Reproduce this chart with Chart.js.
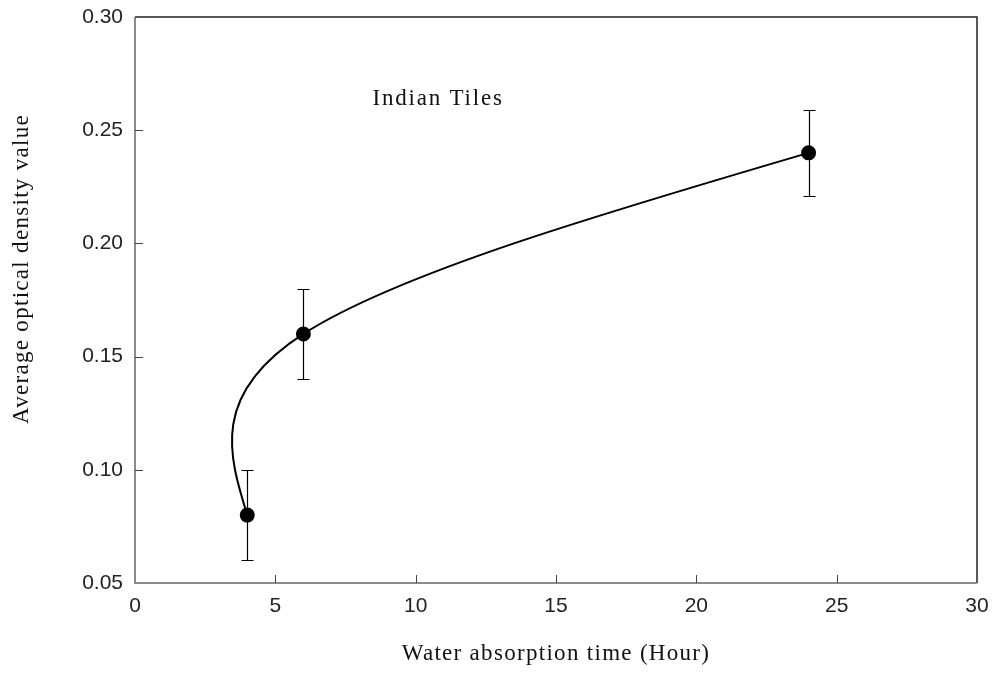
<!DOCTYPE html>
<html>
<head>
<meta charset="utf-8">
<script src="https://cdn.jsdelivr.net/npm/chart.js@4.4.0/dist/chart.umd.min.js"></script>
<style>
  html, body { margin: 0; padding: 0; background: #fff; }
  #wrap { width: 993px; height: 673px; }
</style>
</head>
<body>
<div id="wrap"><canvas id="chart"></canvas></div>
<script>
// === DATA ===
const hours = [4, 6, 24];
const density = [0.08, 0.16, 0.24];
const errors = [0.02, 0.02, 0.019];
const xTicks = [0, 5, 10, 15, 20, 25, 30];
const yTicks = [0.05, 0.10, 0.15, 0.20, 0.25, 0.30];
const seriesName = 'Indian Tiles';
const xTitle = 'Water absorption time (Hour)';
const yTitle = 'Average optical density value';

const serif = '"Liberation Serif", "Times New Roman", serif';
const sans = '"Liberation Sans", Arial, sans-serif';

// === SPLINE: natural cubic, uniform parameter (like the original plot) ===
const naturalSpline = {
  id: 'naturalSpline',
  beforeDatasetDraw(chart, args) {
    const line = args.meta.dataset;
    if (!line) return;
    line.updateControlPoints(chart.chartArea);
    const pts = args.meta.data;
    const n = pts.length;
    ['x', 'y'].forEach(k => {
      const p = pts.map(pt => pt[k]);
      const m = new Array(n).fill(0);
      const c = new Array(n).fill(0), d = new Array(n).fill(0);
      for (let i = 1; i < n - 1; i++) {
        const rhs = 6 * (p[i + 1] - 2 * p[i] + p[i - 1]);
        const denom = 4 - (i > 1 ? c[i - 1] : 0);
        c[i] = 1 / denom;
        d[i] = (rhs - (i > 1 ? d[i - 1] : 0)) / denom;
      }
      for (let i = n - 2; i >= 1; i--) m[i] = d[i] - c[i] * m[i + 1];
      for (let i = 0; i < n; i++) {
        const out = i < n - 1 ? (p[i + 1] - p[i]) - (2 * m[i] + m[i + 1]) / 6 : 0;
        const inn = i > 0 ? (p[i] - p[i - 1]) + (m[i - 1] + 2 * m[i]) / 6 : 0;
        pts[i]['cp1' + k] = p[i] - inn / 3;
        pts[i]['cp2' + k] = p[i] + out / 3;
      }
    });
  }
};

// === FRAME, INWARD TICKS, ERROR BARS, TEXT ===
const decorations = {
  id: 'decorations',
  beforeDatasetsDraw(chart) {
    const { ctx, chartArea: a, scales: { x, y } } = chart;
    ctx.save();
    // frame
    ctx.lineWidth = 1.5;
    ctx.strokeStyle = '#222';
    ctx.beginPath();
    ctx.moveTo(a.left, a.top); ctx.lineTo(a.right, a.top); ctx.lineTo(a.right, a.bottom);
    ctx.stroke();
    ctx.strokeStyle = '#666';
    ctx.beginPath();
    ctx.moveTo(a.left, a.top); ctx.lineTo(a.left, a.bottom); ctx.lineTo(a.right, a.bottom);
    ctx.stroke();
    // inward ticks
    ctx.lineWidth = 1;
    ctx.strokeStyle = '#444';
    ctx.beginPath();
    xTicks.slice(1, -1).forEach(v => {
      const px = Math.round(x.getPixelForValue(v)) + 0.5;
      ctx.moveTo(px, a.bottom); ctx.lineTo(px, a.bottom - 8);
    });
    yTicks.slice(1, -1).forEach(v => {
      const py = Math.round(y.getPixelForValue(v)) + 0.5;
      ctx.moveTo(a.left, py); ctx.lineTo(a.left + 8, py);
    });
    ctx.stroke();
    // error bars
    ctx.strokeStyle = '#000';
    ctx.lineWidth = 1.2;
    ctx.beginPath();
    hours.forEach((h, i) => {
      const px = Math.round(x.getPixelForValue(h)) + 0.5;
      const top = Math.round(y.getPixelForValue(density[i] + errors[i])) + 0.5;
      const bot = Math.round(y.getPixelForValue(density[i] - errors[i])) + 0.5;
      ctx.moveTo(px, top); ctx.lineTo(px, bot);
      ctx.moveTo(px - 6, top); ctx.lineTo(px + 6, top);
      ctx.moveTo(px - 6, bot); ctx.lineTo(px + 6, bot);
    });
    ctx.stroke();
    // serif text: series label, axis titles
    ctx.fillStyle = '#111';
    ctx.font = '23px ' + serif;
    ctx.textAlign = 'center';
    ctx.textBaseline = 'middle';
    ctx.letterSpacing = '1.8px';
    ctx.fillText(seriesName, x.getPixelForValue(10.8), y.getPixelForValue(0.264));
    ctx.letterSpacing = '1.3px';
    ctx.fillText(xTitle, (a.left + a.right) / 2, 654);
    ctx.translate(22, 269);
    ctx.rotate(-Math.PI / 2);
    ctx.fillText(yTitle, 0, 0);
    ctx.restore();
  }
};

const ctx = document.getElementById('chart').getContext('2d');
new Chart(ctx, {
  type: 'line',
  data: {
    datasets: [{
      label: seriesName,
      data: hours.map((h, i) => ({ x: h, y: density[i] })),
      borderColor: '#000',
      borderWidth: 2,
      backgroundColor: '#000',
      pointBackgroundColor: '#000',
      pointBorderColor: '#000',
      pointRadius: 6.5,
      pointHoverRadius: 6.5,
      tension: 0.4,
      fill: false
    }]
  },
  plugins: [naturalSpline, decorations],
  options: {
    responsive: true,
    maintainAspectRatio: false,
    animation: false,
    layout: { padding: { top: 17, right: 16, left: 0, bottom: 0 } },
    plugins: { legend: { display: false }, tooltip: { enabled: false } },
    scales: {
      x: {
        type: 'linear',
        min: 0, max: 30,
        afterBuildTicks: s => { s.ticks = xTicks.map(v => ({ value: v })); },
        afterFit: s => { s.height = 90; s.paddingLeft = 0; s.paddingRight = 0; },
        grid: { display: false, drawTicks: false },
        border: { display: false },
        ticks: { color: '#222', font: { family: sans, size: 21 }, padding: 11, maxRotation: 0 }
      },
      y: {
        min: 0.05, max: 0.30,
        afterBuildTicks: s => { s.ticks = yTicks.map(v => ({ value: v })); },
        afterFit: s => { s.width = 135; s.paddingTop = 0; s.paddingBottom = 0; },
        grid: { display: false, drawTicks: false },
        border: { display: false },
        ticks: { color: '#222', font: { family: sans, size: 21 }, padding: 12, callback: v => v.toFixed(2) }
      }
    }
  }
});
</script>
</body>
</html>
